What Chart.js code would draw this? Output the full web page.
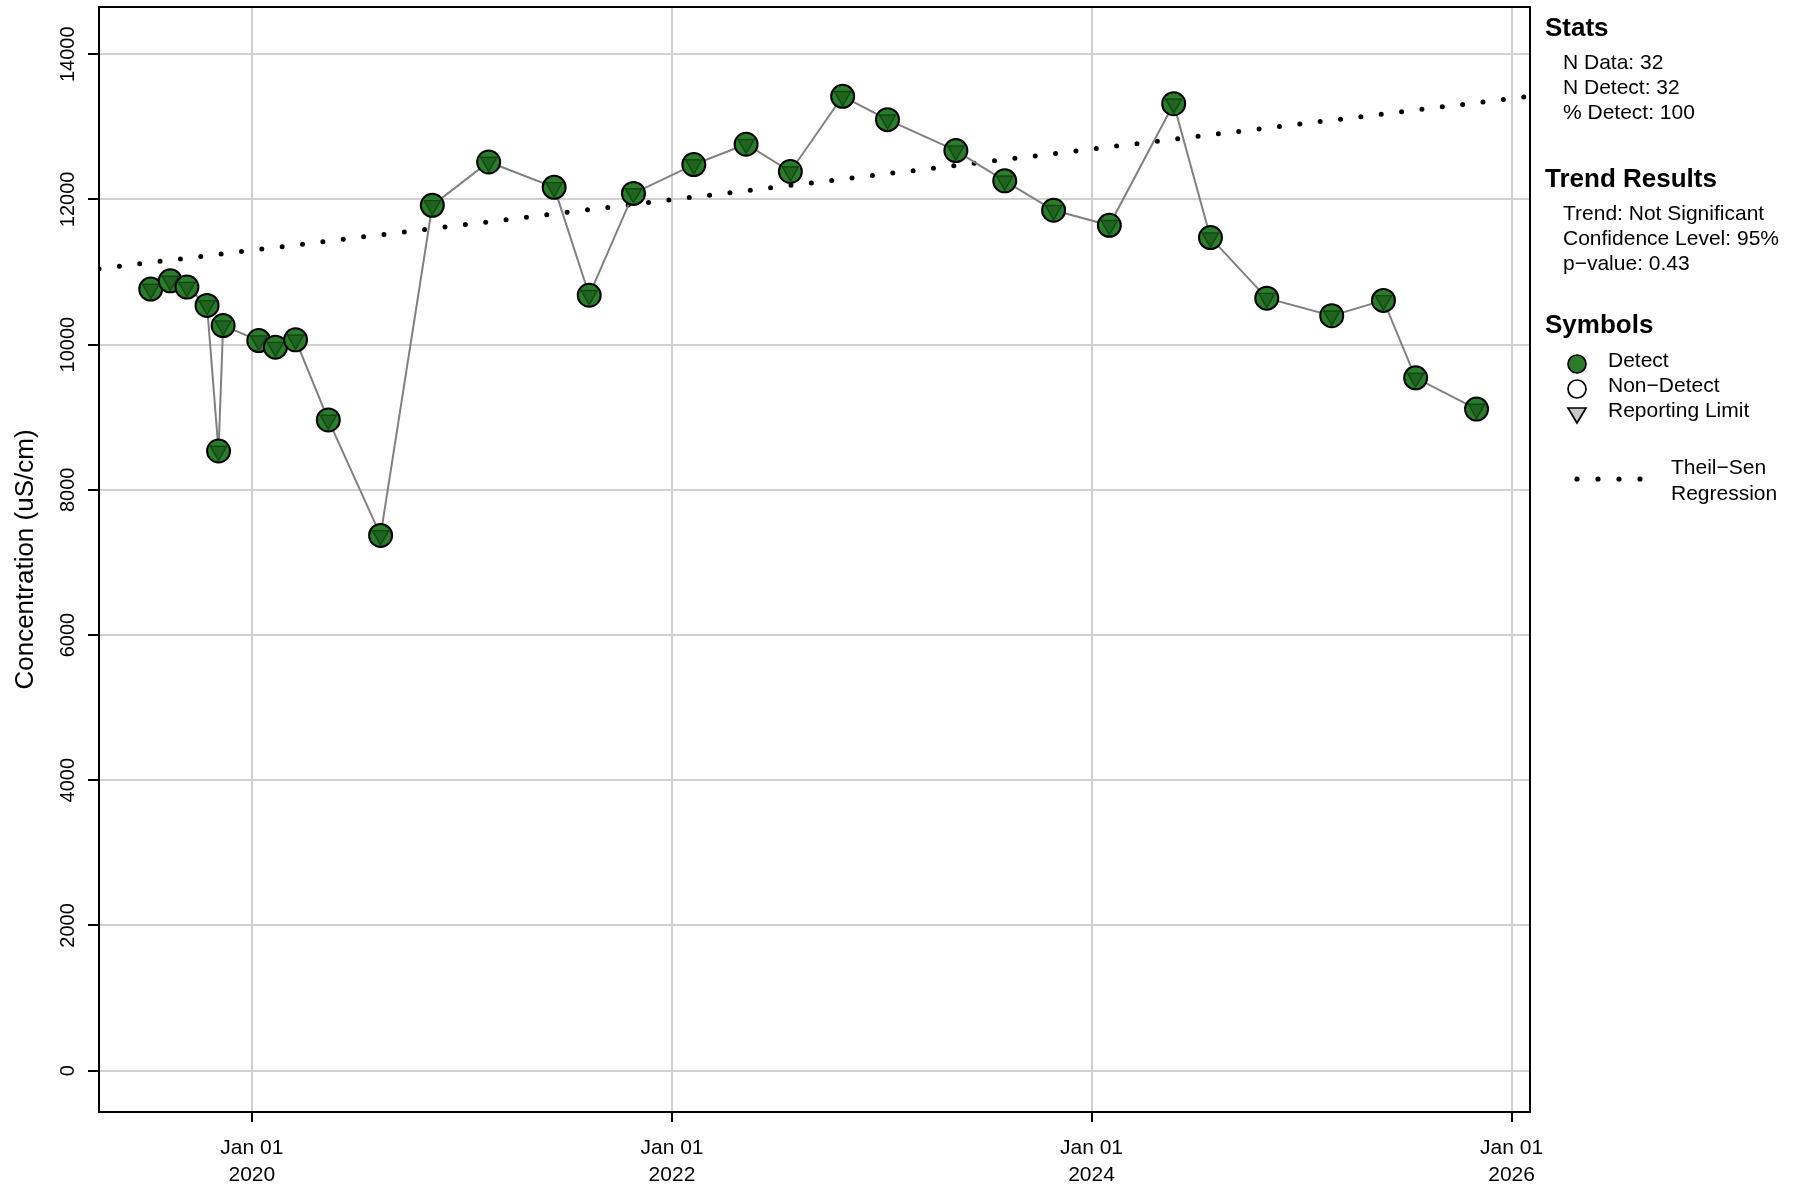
<!DOCTYPE html>
<html><head><meta charset="utf-8">
<script src="https://cdn.jsdelivr.net/npm/chart.js@4"></script>
<style>html,body{margin:0;padding:0;background:#fff}#wrap{width:1805px;height:1187px;position:relative}</style>
</head><body><div id="wrap"><canvas id="c"></canvas></div>
<script>
// ---- data ----
const sampleDates = [
  '2019-07-09','2019-08-12','2019-09-10','2019-10-15','2019-11-04','2019-11-12',
  '2020-01-13','2020-02-11','2020-03-17','2020-05-13','2020-08-12','2020-11-10',
  '2021-02-16','2021-06-10','2021-08-10','2021-10-26','2022-02-08','2022-05-10',
  '2022-07-26','2022-10-25','2023-01-11','2023-05-10','2023-08-03','2023-10-27',
  '2024-02-01','2024-05-23','2024-07-26','2024-11-01','2025-02-22','2025-05-23',
  '2025-07-18','2025-11-01'
];
const concentrations = [
  10765, 10878, 10792, 10540, 8534, 10262,
  10055, 9965, 10066, 8962, 7372, 11918,
  12515, 12166, 10680, 12082, 12480, 12760,
  12384, 13420, 13098, 12672, 12256, 11850,
  11643, 13318, 11474, 10640, 10398, 10609,
  9542, 9112
];
const trendDates = ['2019-04-10', '2026-02-02'];
const trendValues = [11045, 13420];
const xRange = ['2019-04-10', '2026-02-02'];
const yRange = [-570, 14650];
const yTickValues = [0, 2000, 4000, 6000, 8000, 10000, 12000, 14000];
const xTickDates = ['2020-01-01', '2022-01-01', '2024-01-01', '2026-01-01'];
const xTickLabels = [['Jan 01', '2020'], ['Jan 01', '2022'], ['Jan 01', '2024'], ['Jan 01', '2026']];
const yAxisTitle = 'Concentration (uS/cm)';
const statsTitle = 'Stats';
const statsLines = ['N Data: 32', 'N Detect: 32', '% Detect: 100'];
const trendTitle = 'Trend Results';
const trendLines = ['Trend: Not Significant', 'Confidence Level: 95%', 'p\u2212value: 0.43'];
const symbolsTitle = 'Symbols';
const symbolLabels = ['Detect', 'Non\u2212Detect', 'Reporting Limit'];
const regressionLabel = ['Theil\u2212Sen', 'Regression'];

// ---- build ----
const FONT = '"Liberation Sans", Arial, Helvetica, sans-serif';
const toX = d => Date.parse(d + 'T00:00:00Z');
const pts = sampleDates.map((d, i) => ({x: toX(d), y: concentrations[i]}));
const trendPts = trendDates.map((d, i) => ({x: toX(d), y: trendValues[i]}));
const xTickVals = xTickDates.map(toX);

const GREEN = '#2a7d2a';

const boxPlugin = {
  id: 'box',
  afterDatasetsDraw(chart) {
    const {ctx, chartArea: a} = chart;
    ctx.save();
    ctx.strokeStyle = '#000';
    ctx.lineWidth = 2;
    ctx.strokeRect(a.left, a.top, a.right - a.left, a.bottom - a.top);
    ctx.restore();
  }
};

const panelPlugin = {
  id: 'panel',
  afterDraw(chart) {
    const ctx = chart.ctx;
    ctx.save();
    ctx.fillStyle = '#000';
    ctx.textBaseline = 'middle';
    ctx.textAlign = 'left';
    const hx = 1545, bx = 1563;
    ctx.font = 'bold 26px ' + FONT;
    ctx.fillText(statsTitle, hx, 29);
    ctx.fillText(trendTitle, hx, 180);
    ctx.fillText(symbolsTitle, hx, 326);
    ctx.font = '21px ' + FONT;
    const sy = [63, 88, 113];
    statsLines.forEach((t, i) => ctx.fillText(t, bx, sy[i]));
    const ty = [214, 239, 264];
    trendLines.forEach((t, i) => ctx.fillText(t, bx, ty[i]));
    const symY = [361, 386, 411];
    symbolLabels.forEach((t, i) => ctx.fillText(t, 1608, symY[i]));
    regressionLabel.forEach((t, i) => ctx.fillText(t, 1671, 468 + i * 26));
    // symbols
    ctx.lineWidth = 1.7;
    ctx.strokeStyle = '#000';
    ctx.beginPath(); ctx.arc(1577, 364, 9, 0, Math.PI * 2);
    ctx.fillStyle = GREEN; ctx.fill(); ctx.stroke();
    ctx.beginPath(); ctx.arc(1577, 389, 9, 0, Math.PI * 2);
    ctx.fillStyle = '#fff'; ctx.fill(); ctx.stroke();
    ctx.beginPath();
    ctx.moveTo(1568, 408); ctx.lineTo(1586, 408); ctx.lineTo(1577, 423); ctx.closePath();
    ctx.fillStyle = '#c8c8c8'; ctx.fill(); ctx.stroke();
    ctx.fillStyle = '#000';
    [1577, 1598, 1619, 1640].forEach(x => { ctx.beginPath(); ctx.arc(x, 479, 2.6, 0, Math.PI * 2); ctx.fill(); });
    ctx.restore();
  }
};

new Chart(document.getElementById('c'), {
  type: 'scatter',
  data: {
    datasets: [
      { // reporting-limit triangles
        data: pts, order: 0, showLine: false,
        pointStyle: 'triangle', rotation: 180, pointRadius: 9.5,
        backgroundColor: 'rgba(0,0,0,0.2)', borderColor: 'rgba(0,40,0,0.55)', borderWidth: 1.4
      },
      { // detect circles
        data: pts, order: 1, showLine: false,
        pointStyle: 'circle', pointRadius: 11.5,
        backgroundColor: GREEN, borderColor: '#000', borderWidth: 2
      },
      { // connecting line
        data: pts, order: 2, showLine: true, pointRadius: 0,
        borderColor: '#808080', borderWidth: 2, tension: 0
      },
      { // Theil-Sen regression
        data: trendPts, order: 3, showLine: true, pointRadius: 0,
        borderColor: '#000', borderWidth: 5, borderDash: [0, 20.5], borderCapStyle: 'round'
      }
    ]
  },
  options: {
    responsive: true, maintainAspectRatio: false, animation: false,
    layout: {autoPadding: false, padding: {left: 0, right: 275, top: 7, bottom: 0}},
    plugins: {legend: {display: false}, tooltip: {enabled: false}},
    scales: {
      x: {
        type: 'linear', position: 'bottom',
        min: toX(xRange[0]), max: toX(xRange[1]),
        afterBuildTicks: s => { s.ticks = xTickVals.map(v => ({value: v})); },
        afterFit: s => { s.height = 75; s.paddingLeft = 0; s.paddingRight = 0; },
        ticks: {
          autoSkip: false, maxRotation: 0, minRotation: 0, padding: 13, color: '#000',
          font: {family: FONT, size: 21, lineHeight: 1.27},
          callback: (v, i) => xTickLabels[i]
        },
        grid: {color: '#d0d0d0', lineWidth: 2, tickColor: '#000', tickWidth: 2, tickLength: 10},
        border: {display: true, color: '#000', width: 2}
      },
      y: {
        type: 'linear', position: 'left',
        min: yRange[0], max: yRange[1],
        afterBuildTicks: s => { s.ticks = yTickValues.map(v => ({value: v})); },
        afterFit: s => { s.width = 99; s.paddingTop = 0; s.paddingBottom = 0; },
        ticks: {
          minRotation: 90, maxRotation: 90, crossAlign: 'center', padding: -8, color: '#000',
          font: {family: FONT, size: 20, lineHeight: 0.5},
          callback: v => String(v)
        },
        title: {display: true, text: yAxisTitle, color: '#000', font: {family: FONT, size: 26}, padding: {top: 10, bottom: 0}},
        grid: {color: '#d0d0d0', lineWidth: 2, tickColor: '#000', tickWidth: 2, tickLength: 11},
        border: {display: true, color: '#000', width: 2}
      }
    }
  },
  plugins: [boxPlugin, panelPlugin]
});
</script>
</body></html>
